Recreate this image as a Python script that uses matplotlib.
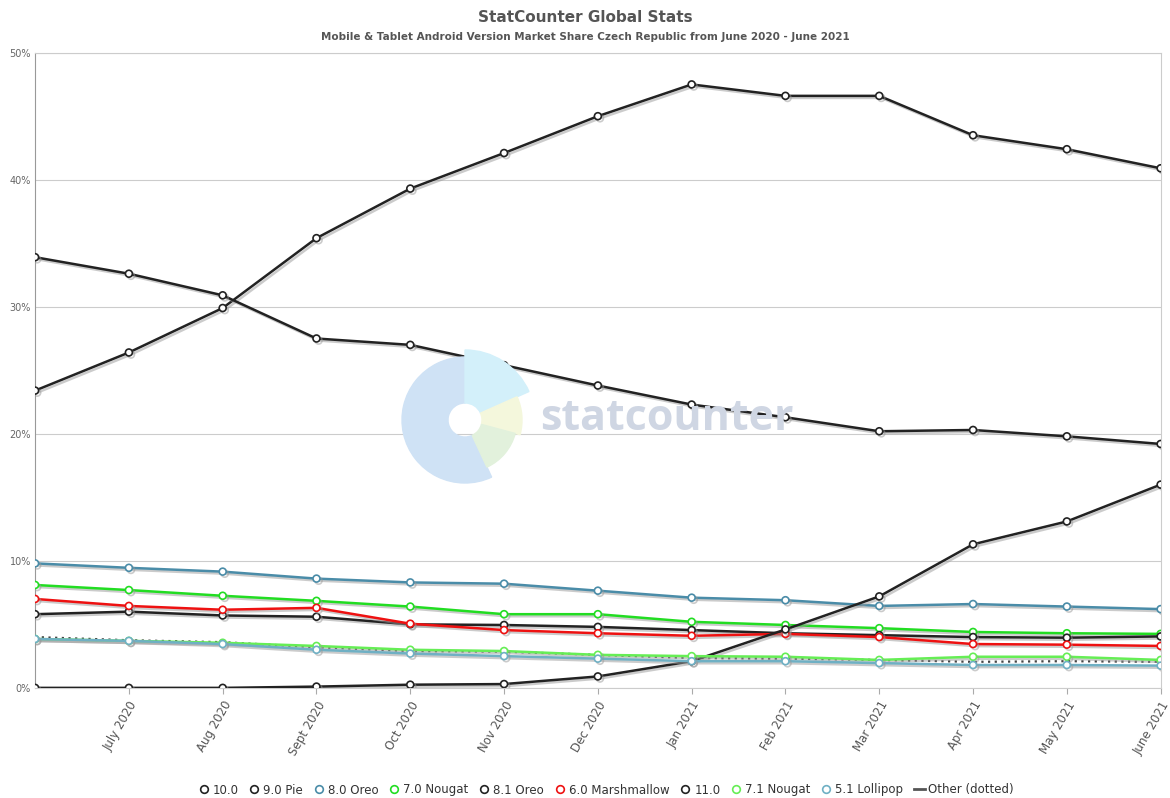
import matplotlib
matplotlib.use('Agg')
import matplotlib.pyplot as plt
from matplotlib.patches import Wedge
from matplotlib.lines import Line2D
import matplotlib.patheffects as pe

months = ['June 2020', 'July 2020', 'Aug 2020', 'Sept 2020', 'Oct 2020', 'Nov 2020',
          'Dec 2020', 'Jan 2021', 'Feb 2021', 'Mar 2021', 'Apr 2021', 'May 2021', 'June 2021']

v10 = [23.4, 26.4, 29.9, 35.4, 39.3, 42.1, 45.0, 47.5, 46.6, 46.6, 43.5, 42.4, 40.9]
v9_pie = [33.9, 32.6, 30.9, 27.5, 27.0, 25.4, 23.8, 22.3, 21.3, 20.2, 20.3, 19.8, 19.2]
v8_oreo = [9.8, 9.45, 9.15, 8.6, 8.3, 8.2, 7.65, 7.1, 6.9, 6.45, 6.6, 6.4, 6.2]
v7_nougat = [8.1, 7.7, 7.25, 6.85, 6.4, 5.8, 5.8, 5.2, 4.95, 4.7, 4.4, 4.3, 4.25]
v81_oreo = [5.8, 6.0, 5.7, 5.6, 5.0, 4.95, 4.8, 4.55, 4.3, 4.15, 4.0, 3.95, 4.05]
v6_marsh = [7.0, 6.45, 6.15, 6.3, 5.05, 4.55, 4.3, 4.1, 4.25, 4.0, 3.45, 3.4, 3.3]
v11 = [0.0, 0.0, 0.0, 0.1, 0.25, 0.3, 0.9, 2.1, 4.6, 7.2, 11.3, 13.1, 16.0]
v71_nougat = [3.85, 3.7, 3.55, 3.3, 3.0, 2.9, 2.6, 2.5, 2.45, 2.2, 2.45, 2.45, 2.2]
v51_lollipop = [3.85, 3.7, 3.45, 3.0, 2.7, 2.5, 2.3, 2.1, 2.1, 1.95, 1.8, 1.8, 1.75]
other = [4.0, 3.75, 3.6, 3.2, 2.9, 2.85, 2.6, 2.35, 2.3, 2.2, 2.05, 2.1, 2.05]

series = [
    ('10.0', v10, '#222222'),
    ('9.0 Pie', v9_pie, '#222222'),
    ('8.0 Oreo', v8_oreo, '#4a8ca8'),
    ('7.0 Nougat', v7_nougat, '#22dd22'),
    ('8.1 Oreo', v81_oreo, '#222222'),
    ('6.0 Marshmallow', v6_marsh, '#ee1111'),
    ('11.0', v11, '#222222'),
    ('7.1 Nougat', v71_nougat, '#66ee55'),
    ('5.1 Lollipop', v51_lollipop, '#6fb0c4'),
]

plt.rcParams['font.family'] = 'DejaVu Sans'
fig = plt.figure(figsize=(11.7, 7.98), dpi=100)
ax = fig.add_axes([0.030, 0.138, 0.962, 0.796])

# watermark logo (pixel units around its centre)
lax = fig.add_axes([(465 - 80) / 1170, 1 - (420 + 80) / 798, 160 / 1170, 160 / 798], zorder=0)
lax.set_xlim(-80, 80)
lax.set_ylim(-80, 80)
lax.axis('off')
lax.add_patch(Wedge((0, 0), 63, 90, 295, width=46, color='#cfe2f5'))
lax.add_patch(Wedge((0, 0), 70, 24, 90, width=53, color='#d3f0fa'))
lax.add_patch(Wedge((0, 0), 57, -15, 24, width=40, color='#f4f7dc'))
lax.add_patch(Wedge((0, 0), 52, -65, -15, width=35, color='#e2f1dc'))
fig.text(667 / 1170, 1 - 418 / 798, 'statcounter', fontsize=31, fontweight='bold',
         family='Open Sans', color='#cfd6e3', ha='center', va='center', zorder=0)

x = list(range(len(months)))
shadow = [pe.SimpleLineShadow(offset=(1.5, -1.5), shadow_color='#999999', alpha=0.5), pe.Normal()]

ax.plot(x, other, color='#444444', lw=1.6, ls=(0, (1, 2)), zorder=3)
for name, vals, col in series:
    ax.plot(x, vals, color=col, lw=1.8, marker='o', ms=5, mfc='white', mec=col,
            mew=1.2, zorder=4, path_effects=shadow)

ax.set_xlim(0, 12)
ax.set_ylim(0, 50)
ax.set_yticks([0, 10, 20, 30, 40, 50])
ax.set_yticklabels(['0%', '10%', '20%', '30%', '40%', '50%'])
ax.yaxis.grid(True, color='#cccccc', lw=0.8)
ax.set_axisbelow(True)
ax.set_xticks(x[1:])
ax.set_xticklabels(months[1:], rotation=60, ha='right', rotation_mode='anchor')
ax.tick_params(axis='y', length=0, labelsize=7, labelcolor='#666666', pad=3)
ax.tick_params(axis='x', length=4, color='#aaaaaa', labelsize=8.5, labelcolor='#555555', pad=4)
for s in ax.spines.values():
    s.set_color('#cccccc')
ax.spines['left'].set_color('#999999')
ax.patch.set_alpha(0)

fig.text(0.5, 1 - 18 / 798, 'StatCounter Global Stats', ha='center', va='center',
         fontsize=11, fontweight='bold', color='#555555')
fig.text(0.5, 1 - 37 / 798,
         'Mobile & Tablet Android Version Market Share Czech Republic from June 2020 - June 2021',
         ha='center', va='center', fontsize=7.5, fontweight='bold', color='#555555')

handles = [Line2D([], [], color=col, lw=0, marker='o', ms=5.5, mfc='white', mec=col, mew=1.2)
           for _, _, col in series]
handles.append(Line2D([], [], color='#555555', lw=2))
labels = [s[0] for s in series] + ['Other (dotted)']
fig.legend(handles, labels, loc='center', bbox_to_anchor=(0.518, 1 - 790 / 798), ncol=10,
           frameon=False, fontsize=8.5, handlelength=0.9, handletextpad=0.3, columnspacing=0.9,
           labelcolor='#333333')

fig.savefig('out.png', dpi=100)
